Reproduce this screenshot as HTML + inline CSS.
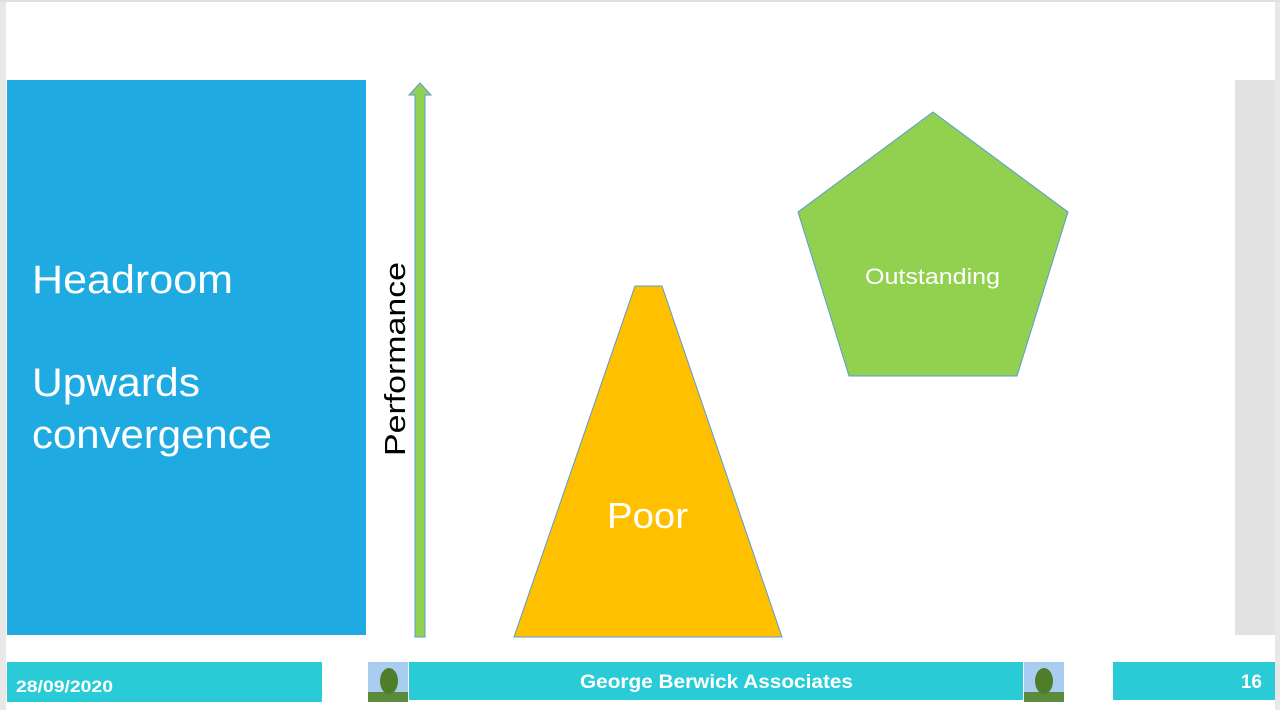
<!DOCTYPE html>
<html><head><style>
body{margin:0;width:1280px;height:710px;overflow:hidden;background:#fff;font-family:"Liberation Sans",sans-serif}
</style></head><body>
<svg width="1280" height="710" xmlns="http://www.w3.org/2000/svg" style="position:absolute;left:0;top:0">
<rect x="0" y="0" width="1280" height="710" fill="#fff"/>
<rect x="0" y="0" width="6" height="710" fill="#e8e8e8"/>
<rect x="1275" y="0" width="5" height="710" fill="#e8e8e8"/>
<rect x="0" y="0" width="1280" height="2" fill="#e0e0e0"/>
<rect x="7" y="80" width="359" height="555" fill="#1fabe2"/>
<rect x="1235" y="80" width="40" height="555" fill="#e2e2e2"/>
<text x="32" y="293" fill="#fff" font-size="40" textLength="201" lengthAdjust="spacingAndGlyphs">Headroom</text>
<text x="32" y="396" fill="#fff" font-size="40" textLength="168" lengthAdjust="spacingAndGlyphs">Upwards</text>
<text x="32" y="448" fill="#fff" font-size="40" textLength="240" lengthAdjust="spacingAndGlyphs">convergence</text>
<polygon points="415,637 425,637 425,95 431,95 420,83 409,95 415,95" fill="#92d050" stroke="#5b9bd5" stroke-width="1"/>
<text transform="translate(405,456) rotate(-90)" fill="#000" font-size="29" textLength="194" lengthAdjust="spacingAndGlyphs">Performance</text>
<polygon points="514,637 782,637 662,286 635,286" fill="#ffc000" stroke="#5b9bd5" stroke-width="1"/>
<text x="607" y="528" fill="#fff" font-size="36" textLength="81" lengthAdjust="spacingAndGlyphs">Poor</text>
<polygon points="933,112 1068,212 1017,376 849,376 798,212" fill="#92d050" stroke="#5b9bd5" stroke-width="1"/>
<text x="865" y="284" fill="#fff" font-size="22" textLength="135" lengthAdjust="spacingAndGlyphs">Outstanding</text>
<rect x="7" y="662" width="315" height="40" fill="#29ccd6"/>
<text x="16" y="692" fill="#fff" font-size="17" font-weight="bold" textLength="97" lengthAdjust="spacingAndGlyphs">28/09/2020</text>
<rect x="409" y="662" width="614" height="38" fill="#29ccd6"/>
<text x="580" y="688" fill="#fff" font-size="19" font-weight="bold" textLength="273" lengthAdjust="spacingAndGlyphs">George Berwick Associates</text>
<rect x="1113" y="662" width="162" height="38" fill="#29ccd6"/>
<text x="1262" y="688" fill="#fff" font-size="19" font-weight="bold" text-anchor="end">16</text>
<g>
<rect x="368" y="662" width="40" height="40" fill="#a8cdf0"/>
<rect x="368" y="692" width="40" height="10" fill="#5a8a3a"/>
<ellipse cx="389" cy="681" rx="9" ry="13" fill="#4f7d2a"/>
<rect x="1024" y="662" width="40" height="40" fill="#a8cdf0"/>
<rect x="1024" y="692" width="40" height="10" fill="#5a8a3a"/>
<ellipse cx="1044" cy="681" rx="9" ry="13" fill="#4f7d2a"/>
</g>
</svg>
</body></html>
